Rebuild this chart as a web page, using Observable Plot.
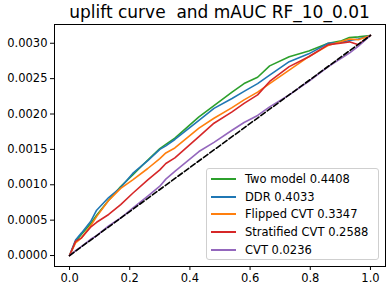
<!DOCTYPE html>
<html><head><meta charset="utf-8">
<script src="https://cdn.jsdelivr.net/npm/d3@7"></script>
<script src="https://cdn.jsdelivr.net/npm/@observablehq/plot@0.6"></script>
<style>
body{margin:0;background:#fff;font-family:"DejaVu Sans",sans-serif}
#wrap{position:relative;width:391px;height:291px;overflow:hidden}
#title{position:relative;height:22px;width:391px}
#title span{position:absolute;left:54px;width:331px;top:2px;text-align:center;font-size:17px;line-height:20px;white-space:pre;color:#000}
#legend{position:absolute;left:206px;top:168px;width:171px;height:90px;border:1px solid #cfcfcf;border-radius:3px;background:rgba(255,255,255,0.8);font-size:11.5px;color:#000}
.row{position:absolute;left:0;height:14px;line-height:14px;white-space:pre}
.row b{position:absolute;left:4px;top:6px;width:25px;height:2px;display:block}
.row span{position:absolute;left:38px;top:0}
</style></head>
<body>
<div id="wrap">
<div id="title"><span>uplift curve  and mAUC RF_10_0.01</span></div>
<div id="chart"></div>
<div id="legend"></div>
</div>
<script>
const titleText = "uplift curve  and mAUC RF_10_0.01";
const fraction = [0,0.02,0.04,0.07,0.09,0.13,0.17,0.21,0.26,0.30,0.32,0.35,0.43,0.48,0.54,0.58,0.625,0.665,0.73,0.795,0.86,0.9,0.93,0.96,1.0];
// uplift values (x 1e-3)
const twoModel   = [0,0.20,0.30,0.45,0.57,0.78,0.975,1.14,1.35,1.51,1.57,1.66,1.96,2.12,2.31,2.43,2.52,2.68,2.81,2.89,3.00,3.03,3.08,3.09,3.11];
const ddr        = [0,0.22,0.32,0.48,0.64,0.82,0.96,1.16,1.34,1.50,1.55,1.64,1.91,2.08,2.22,2.32,2.43,2.55,2.74,2.85,3.00,3.01,3.04,3.06,3.11];
const flippedCVT = [0,0.18,0.25,0.42,0.55,0.78,0.95,1.07,1.23,1.37,1.45,1.52,1.80,1.94,2.09,2.20,2.31,2.43,2.62,2.81,2.97,3.02,3.06,3.05,3.11];
const stratCVT   = [0,0.20,0.25,0.40,0.47,0.58,0.72,0.88,1.07,1.21,1.30,1.38,1.68,1.87,2.03,2.15,2.27,2.46,2.67,2.81,2.98,3.00,3.02,2.98,3.11];
const cvt        = [0,0.07,0.13,0.23,0.28,0.42,0.53,0.67,0.84,0.98,1.08,1.19,1.47,1.60,1.77,1.88,1.98,2.10,2.27,2.46,2.67,2.78,2.86,2.96,3.11];
const randomX = [0, 1];
const randomY = [0, 3.11];
const seriesNames = ["Two model 0.4408","DDR 0.4033","Flipped CVT 0.3347","Stratified CVT 0.2588","CVT 0.0236"];
const seriesColors = ["#2ca02c","#1f77b4","#ff7f0e","#d62728","#9467bd"];
const seriesValues = [twoModel, ddr, flippedCVT, stratCVT, cvt];
const xTicks = [0,0.2,0.4,0.6,0.8,1.0];
const yTicks = [0,0.0005,0.001,0.0015,0.002,0.0025,0.003];

const lineMarks = seriesValues.map((vals, i) =>
  Plot.line(fraction.map((f, j) => ({x: f, y: vals[j] * 1e-3})), {x: "x", y: "y", stroke: seriesColors[i], strokeWidth: 1.6})
);
const diag = randomX.map((x, i) => ({x, y: randomY[i] * 1e-3}));

const chart = Plot.plot({
  width: 391, height: 269,
  marginLeft: 54, marginRight: 6, marginTop: 2, marginBottom: 25,
  style: {fontFamily: "DejaVu Sans", fontSize: "11.5px", color: "#000", background: "#fff"},
  x: {domain: [-0.05, 1.05], label: null},
  y: {domain: [-0.000155, 0.003265], label: null},
  marks: [
    ...lineMarks,
    Plot.line(diag, {x: "x", y: "y", stroke: "#000", strokeWidth: 1.6, strokeDasharray: "5.5,2.4"}),
    Plot.frame({stroke: "#000", strokeWidth: 1}),
    Plot.axisX({ticks: xTicks, tickFormat: d3.format(".1f"), tickSize: 4, tickPadding: 3, label: null, stroke: "#000"}),
    Plot.axisY({ticks: yTicks, tickFormat: d3.format(".4f"), tickSize: 4, tickPadding: 3, label: null, stroke: "#000"})
  ]
});
document.getElementById("chart").appendChild(chart);

const leg = document.getElementById("legend");
seriesNames.forEach((name, i) => {
  const r = document.createElement("div");
  r.className = "row";
  r.style.top = (3 + i * 17.7) + "px";
  const b = document.createElement("b");
  b.style.background = seriesColors[i];
  const s = document.createElement("span");
  s.textContent = name;
  r.appendChild(b);
  r.appendChild(s);
  leg.appendChild(r);
});
</script>
</body></html>
